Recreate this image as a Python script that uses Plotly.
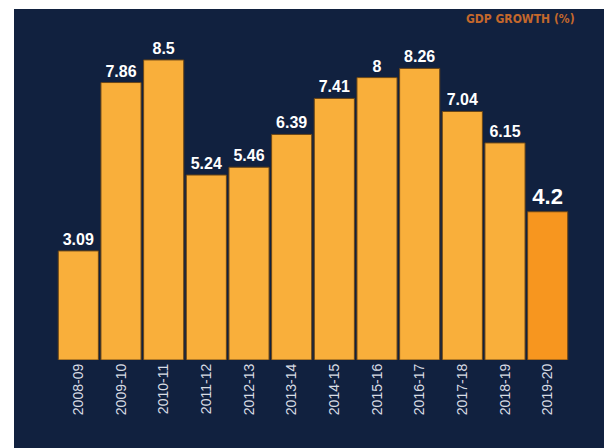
import plotly.graph_objects as go

years = ["2008-09", "2009-10", "2010-11", "2011-12", "2012-13", "2013-14",
         "2014-15", "2015-16", "2016-17", "2017-18", "2018-19", "2019-20"]
growth = [3.09, 7.86, 8.5, 5.24, 5.46, 6.39, 7.41, 8, 8.26, 7.04, 6.15, 4.2]
labels = ["3.09", "7.86", "8.5", "5.24", "5.46", "6.39", "7.41", "8", "8.26", "7.04", "6.15", "4.2"]

BAR = "#F9AF3B"
LAST = "#F7961F"
NAVY = "#11213F"

colors = [BAR] * (len(years) - 1) + [LAST]
label_sizes = [16] * (len(years) - 1) + [22]

W, H = 604, 448
ML, MR, MT, MB = 57, 35, 25, 88
pw, ph = W - ML - MR, H - MT - MB


def px_x(p):
    return (p - ML) / pw


def px_y(p):
    return (H - MB - p) / ph


fig = go.Figure(go.Bar(
    x=years, y=growth,
    marker=dict(color=colors, line=dict(color="#6A4617", width=1)),
    text=labels, textposition="outside", cliponaxis=False,
    textfont=dict(color="white", size=label_sizes, family="Liberation Sans, Arial", weight="bold"),
))

# dark panel behind the chart (paper coords extend past the plot area)
fig.add_shape(type="rect", xref="paper", yref="paper", layer="below",
              x0=px_x(14), x1=px_x(W + 2), y0=px_y(H + 2), y1=px_y(9),
              fillcolor=NAVY, line=dict(width=0))

fig.add_annotation(text="GDP GROWTH (%)", xref="paper", yref="paper",
                   x=px_x(577), y=px_y(19), xanchor="right", yanchor="middle",
                   showarrow=False,
                   font=dict(color="#C4682C", size=12, family="DejaVu Sans Condensed, Liberation Sans Narrow", weight="bold"))

fig.update_layout(
    width=W, height=H, margin=dict(l=ML, r=MR, t=MT, b=MB),
    paper_bgcolor="white", plot_bgcolor="rgba(0,0,0,0)",
    bargap=0.06, showlegend=False,
)
fig.update_xaxes(type="category", tickangle=-90, showgrid=False, showline=False, ticks="",
                 tickfont=dict(color="#D8DCE4", size=14, family="Liberation Sans, Arial"))
fig.update_yaxes(range=[0, ph / 35.3], visible=False, showgrid=False)

fig.write_html("out.html")
